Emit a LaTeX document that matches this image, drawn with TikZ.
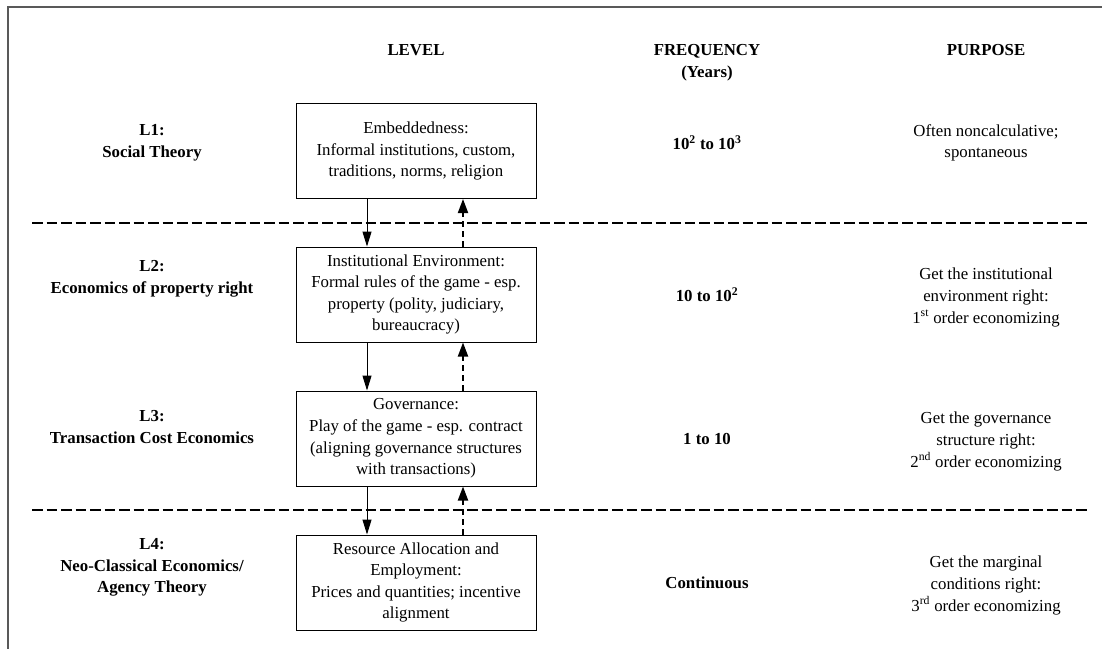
\documentclass[tikz,border=0pt]{standalone}
\usepackage{fontspec}
\setmainfont{Liberation Serif}
\usetikzlibrary{arrows.meta}
\begin{document}
\begin{tikzpicture}[x=1pt,y=-1pt,
  txt/.style={align=center, inner sep=0pt, font=\fontsize{16.8}{21.6}\selectfont},
  hdr/.style={align=center, inner sep=0pt, font=\fontsize{16.8}{21.6}\selectfont\bfseries},
  levelbox/.style={draw, line width=1pt, minimum width=240pt, minimum height=95pt,
    align=center, inner sep=0pt, font=\fontsize{16.8}{21.6}\selectfont},
  sepline/.style={line width=2.5pt, dash pattern=on 10.5pt off 4pt},
  downarrow/.style={line width=1pt, -{Triangle[length=15pt,width=9pt]}},
  uparrow/.style={line width=1.9pt, dash pattern=on 6pt off 4pt, -{Triangle[length=14pt,width=10pt]}},
  frame/.style={line width=1.6pt, draw=black!65}]

\useasboundingbox (0,0) rectangle (1102,649);

% outer frame (top and left edges)
\coordinate (fTL) at (8,7);
\coordinate (fTR) at (1102,7);
\coordinate (fBL) at (8,649);
\draw[frame] (fTR) -- (fTL) -- (fBL);

% column headings
\node[hdr] (hLevel) at (416,50) {LEVEL};
\node[hdr] (hFreq) at (707,63) {FREQUENCY\\(Years)};
\node[hdr] (hPurp) at (986,50) {PURPOSE};

% the four levels
\node[levelbox] (b1) at (416,151) {Embeddedness:\\Informal institutions, custom,\\traditions, norms, religion};
\node[levelbox] (b2) at (416,294.5) {Institutional Environment:\\Formal rules of the game - esp.\\property (polity, judiciary,\\bureaucracy)};
\node[levelbox] (b3) at (416,438.5) {Governance:\\Play of the game - esp. contract\\(aligning governance structures\\with transactions)};
\node[levelbox] (b4) at (416,582.5) {Resource Allocation and\\Employment:\\Prices and quantities; incentive\\alignment};

% level names
\node[hdr] (l1) at (152,143) {L1:\\Social Theory};
\node[hdr] (l2) at (152,278.5) {L2:\\Economics of property right};
\node[hdr] (l3) at (152,427) {L3:\\Transaction Cost Economics};
\node[hdr] (l4) at (152,567.5) {L4:\\Neo-Classical Economics/\\Agency Theory};

% frequencies
\node[hdr] (f1) at (707,143) {10\textsuperscript{2} to 10\textsuperscript{3}};
\node[hdr] (f2) at (707,294.5) {10 to 10\textsuperscript{2}};
\node[hdr] (f3) at (707,438.5) {1 to 10};
\node[hdr] (f4) at (707,582.5) {Continuous};

% purposes
\node[txt] (p1) at (986,143) {Often noncalculative;\\spontaneous};
\node[txt] (p2) at (986,297.5) {Get the institutional\\environment right:\\1\textsuperscript{st} order economizing};
\node[txt] (p3) at (986,441.5) {Get the governance\\structure right:\\2\textsuperscript{nd} order economizing};
\node[txt] (p4) at (986,585.5) {Get the marginal\\conditions right:\\3\textsuperscript{rd} order economizing};

% separators between level groups
\coordinate (s1a) at (32,223);
\coordinate (s1b) at (1087,223);
\coordinate (s2a) at (32,510);
\coordinate (s2b) at (1087,510);
\draw[sepline] (s1a) -- (s1b);
\draw[sepline] (s2a) -- (s2b);

% constraints flow down, feedback flows up
\foreach \hi/\lo in {b1/b2, b2/b3, b3/b4}{
  \draw[downarrow] ([xshift=-49pt]\hi.south) -- ([xshift=-49pt]\lo.north);
  \draw[uparrow] ([xshift=47pt]\lo.north) -- ([xshift=47pt]\hi.south);
}
\end{tikzpicture}
\end{document}
